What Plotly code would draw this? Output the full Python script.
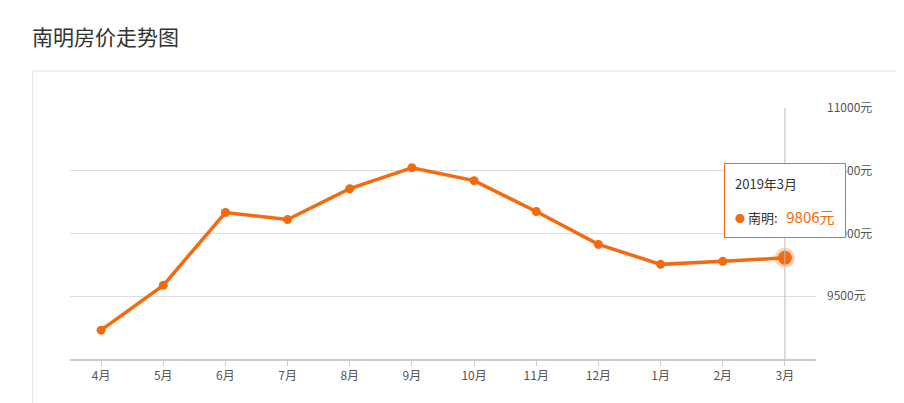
import plotly.graph_objects as go

months = ["4月","5月","6月","7月","8月","9月","10月","11月","12月","1月","2月","3月"]
prices = [9230, 9587, 10167, 10111, 10357, 10524, 10421, 10175, 9913, 9754, 9778, 9806]
yticks = [9500, 10000, 10500, 11000]
ytext = ["9500元", "10000元", "10500元", "11000元"]
orange = "#f56a0e"

fig = go.Figure()
fig.add_trace(go.Scatter(x=months, y=prices, mode="lines+markers",
                         line=dict(color=orange, width=3.5),
                         marker=dict(color=orange, size=9), hoverinfo="skip"))
fig.add_trace(go.Scatter(x=[months[-1]], y=[prices[-1]], mode="markers",
                         marker=dict(color=orange, size=14, line=dict(color="rgba(245,106,14,0.3)", width=6)),
                         hoverinfo="skip"))
fig.add_shape(type="line", xref="x", yref="paper", x0=months[-1], x1=months[-1], y0=0, y1=1,
              line=dict(color="#bbbbbb", width=1))
fig.add_shape(type="rect", xref="paper", yref="paper", x0=-0.05, x1=1.2, y0=-0.4, y1=1.147,
              line=dict(color="#e3e3e3", width=1), layer="below")
fig.add_annotation(x=months[-1], y=prices[-1], xref="x", yref="y", showarrow=False,
                   yshift=20, yanchor="bottom", xanchor="center", align="left",
                   text="2019年3月            <br><br><span style='color:%s;font-size:10px'>●</span> 南明:   <span style='color:%s;font-size:15px'>9806元</span>" % (orange, orange),
                   bgcolor="rgba(255,255,255,0.95)", bordercolor=orange, borderwidth=1, borderpad=10,
                   font=dict(size=13, color="#333"))
fig.add_annotation(xref="paper", yref="paper", x=-0.054, y=1.287, xanchor="left", yanchor="middle",
                   showarrow=False, text="南明房价走势图", font=dict(size=21, color="#333"))
fig.update_layout(width=904, height=403, margin=dict(l=62, r=96, t=100, b=52, autoexpand=False),
                  plot_bgcolor="white", paper_bgcolor="white", showlegend=False,
                  font=dict(family="Noto Sans CJK SC", color="#555", size=12))
fig.update_xaxes(range=[-0.5, 11.5], showgrid=False, showline=True, linecolor="#cccccc", linewidth=2,
                 ticks="outside", tickcolor="#cccccc", ticklen=5)
fig.update_yaxes(range=[9000, 11000], side="right", tickvals=yticks, ticktext=ytext,
                 gridcolor="#dddddd", zeroline=False, ticks="", ticklabelstandoff=10)
fig.write_html("out.html")
